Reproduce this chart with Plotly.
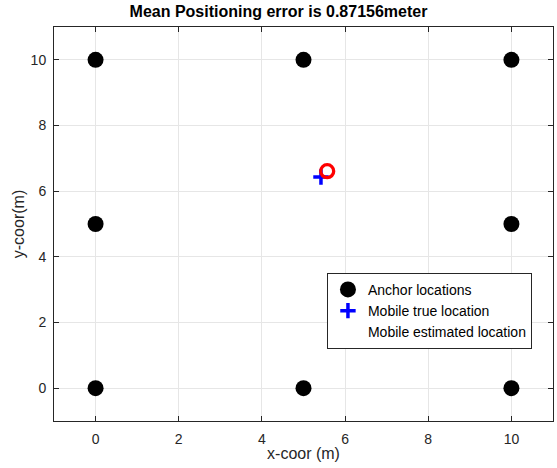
import plotly.graph_objects as go

anchor_x = [0, 5, 10, 0, 10, 0, 5, 10]
anchor_y = [0, 0, 0, 5, 5, 10, 10, 10]
true_x = [5.42]
true_y = [6.43]
est_x = [5.57]
est_y = [6.61]
ticks = [0, 2, 4, 6, 8, 10]

FONT = "Liberation Sans, Arial, sans-serif"

fig = go.Figure()
fig.add_trace(go.Scatter(x=anchor_x, y=anchor_y, mode="markers", name="Anchor locations",
                         marker=dict(color="black", size=16, symbol="circle")))
fig.add_trace(go.Scatter(x=true_x, y=true_y, mode="markers", name="Mobile true location",
                         marker=dict(color="blue", size=11, symbol="cross-thin",
                                     line=dict(color="blue", width=3.5))))
fig.add_trace(go.Scatter(x=est_x, y=est_y, mode="markers", name="Mobile estimated location",
                         showlegend=False,
                         marker=dict(color="red", size=13, symbol="circle-open",
                                     line=dict(color="red", width=3.3))))
fig.add_trace(go.Scatter(x=[None], y=[None], mode="markers", name="Mobile estimated location",
                         marker=dict(color="rgba(0,0,0,0)", size=1)))

axis_common = dict(showgrid=True, gridcolor="#e6e6e6", gridwidth=1,
                   showline=True, linecolor="#262626", linewidth=1, mirror="ticks",
                   ticks="inside", ticklen=5, tickcolor="#262626",
                   tickvals=ticks, zeroline=False,
                   tickfont=dict(family=FONT, size=14, color="#262626"))

fig.update_layout(
    width=557, height=468,
    margin=dict(l=54, r=4, t=27, b=47),
    paper_bgcolor="white", plot_bgcolor="white",
    title=dict(text="<b>Mean Positioning error is 0.87156meter</b>", x=0.5, xanchor="center",
               y=0.988, yanchor="top", font=dict(family=FONT, size=16, color="black")),
    xaxis=dict(range=[-1, 11], ticklabelstandoff=5,
               title=dict(text="x-coor (m)", standoff=2,
                          font=dict(family=FONT, size=16, color="#262626")), **axis_common),
    yaxis=dict(range=[-1, 11], ticklabelstandoff=4,
               title=dict(text="y-coor(m)", standoff=2,
                          font=dict(family=FONT, size=16, color="#262626")), **axis_common),
    legend=dict(x=0.547, y=0.376, xanchor="left", yanchor="top",
                bgcolor="white", bordercolor="#262626", borderwidth=1,
                font=dict(family=FONT, size=14, color="black"),
                itemsizing="trace", tracegroupgap=0),
    showlegend=True,
)

fig.write_html("out.html")
